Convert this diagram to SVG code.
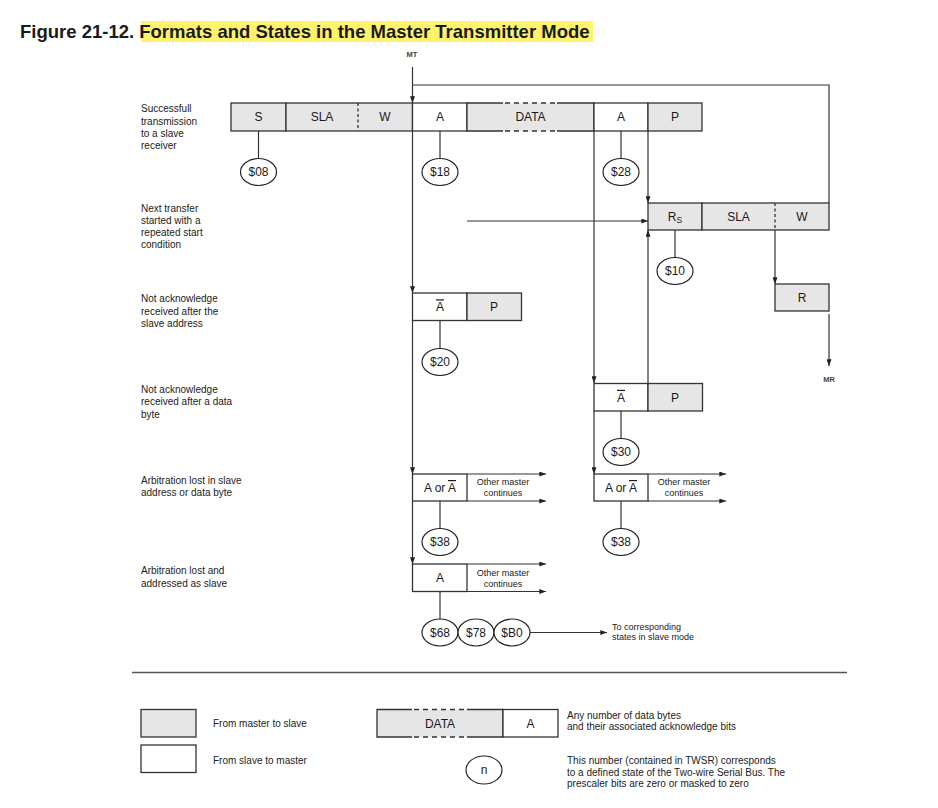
<svg xmlns="http://www.w3.org/2000/svg" width="938" height="808" viewBox="0 0 938 808">
<style>
text{font-family:"Liberation Sans",Arial,Helvetica,sans-serif;fill:#1a1a1a}
.g{fill:#e6e6e6;stroke:#333;stroke-width:1.3}
.w{fill:#fff;stroke:#333;stroke-width:1.3}
.f{fill:#e6e6e6;stroke:none}
.e{stroke:#333;stroke-width:1.3;fill:none}
.d{stroke:#333;stroke-width:1.3;stroke-dasharray:5,4;fill:none}
.dv{stroke:#333;stroke-width:1.3;stroke-dasharray:3,2.5;fill:none}
.t{font-size:12px;text-anchor:middle}
.s{font-size:12px;text-anchor:middle}
.l{font-size:10px;fill:#222}
.sm{font-size:9px;fill:#222}
.o{font-size:9px;text-anchor:middle;fill:#222}
.m{font-size:7.5px;font-weight:bold;text-anchor:middle;fill:#444}
.c{stroke:#333;stroke-width:1.2;fill:none}
.a{stroke:#333;stroke-width:1.2;fill:none;marker-end:url(#ah)}
.n{fill:#fff;stroke:#222;stroke-width:1.2}
.ov{text-decoration:overline}
</style>
<defs>
<marker id="ah" viewBox="0 0 8 6" refX="8" refY="3" markerWidth="7" markerHeight="5" markerUnits="userSpaceOnUse" orient="auto">
<path d="M0,0 L8,3 L0,6 z" fill="#222"/>
</marker>
</defs>
<rect width="938" height="808" fill="#fff"/>

<g id="title">
<rect x="141" y="21" width="452" height="21" fill="#fff36b"/>
<text x="20" y="37.5" font-size="18.5" font-weight="bold" fill="#111">Figure 21-12. Formats and States in the Master Transmitter Mode</text>
</g>

<g id="labels">
<text class="m" x="412" y="57">MT</text>
<text class="m" x="829" y="382">MR</text>
<text class="l" x="141" y="112">Successfull</text>
<text class="l" x="141" y="124.5">transmission</text>
<text class="l" x="141" y="136.8">to a slave</text>
<text class="l" x="141" y="149">receiver</text>
<text class="l" x="141" y="211.5">Next transfer</text>
<text class="l" x="141" y="223.8">started with a</text>
<text class="l" x="141" y="236">repeated start</text>
<text class="l" x="141" y="248.3">condition</text>
<text class="l" x="141" y="302">Not acknowledge</text>
<text class="l" x="141" y="314.5">received after the</text>
<text class="l" x="141" y="327">slave address</text>
<text class="l" x="141" y="393">Not acknowledge</text>
<text class="l" x="141" y="405.3">received after a data</text>
<text class="l" x="141" y="417.6">byte</text>
<text class="l" x="141" y="483.5">Arbitration lost in slave</text>
<text class="l" x="141" y="496">address or data byte</text>
<text class="l" x="141" y="574">Arbitration lost and</text>
<text class="l" x="141" y="586.5">addressed as slave</text>
<text class="sm" x="612" y="630">To corresponding</text>
<text class="sm" x="612" y="640">states in slave mode</text>
</g>

<g id="connectors">
<path class="a" d="M412.5,67 V103"/>
<path class="c" d="M412.5,85 H829 V203"/>
<path class="a" d="M412.5,131 V293"/>
<path class="a" d="M412.5,320 V474"/>
<path class="a" d="M412.5,501 V564"/>
<path class="a" d="M594,131 V383"/>
<path class="a" d="M594,411 V474"/>
<path class="a" d="M648,131 V203"/>
<path class="a" d="M648,383 V230"/>
<path class="a" d="M467,221 H648"/>
<path class="a" d="M775,230 V284"/>
<path class="a" d="M829,314 V366"/>
<path class="a" d="M467,474 H546"/>
<path class="a" d="M467,501 H546"/>
<path class="a" d="M648,474 H726"/>
<path class="a" d="M648,501 H726"/>
<path class="a" d="M467,564 H546"/>
<path class="a" d="M467,591.5 H546"/>
<path class="c" d="M258.5,131 V158"/>
<path class="c" d="M440,131 V158"/>
<path class="c" d="M621,131 V158"/>
<path class="c" d="M675,230 V257"/>
<path class="c" d="M440,320 V348"/>
<path class="c" d="M621,411 V438"/>
<path class="c" d="M440,501 V528"/>
<path class="c" d="M621,501 V528"/>
<path class="c" d="M440,591.5 V619"/>
<path class="a" d="M530,632.5 H607"/>
</g>

<g id="row1">
<rect class="g" x="231" y="103" width="55" height="28"/>
<text class="t" x="258.5" y="121.3">S</text>
<rect class="g" x="286" y="103" width="126.5" height="28"/>
<line class="dv" x1="358" y1="103" x2="358" y2="131"/>
<text class="t" x="322" y="121.3">SLA</text>
<text class="t" x="385" y="121.3">W</text>
<rect class="w" x="412.5" y="103" width="54.5" height="28"/>
<text class="t" x="440" y="121.3">A</text>
<rect class="f" x="467" y="103" width="127" height="28"/>
<path class="e" d="M503,103 H467 V131 H503 M557,103 H594 V131 H557"/>
<path class="d" d="M505,103 H557 M505,131 H557"/>
<text class="t" x="530.5" y="121.3">DATA</text>
<rect class="w" x="594" y="103" width="54" height="28"/>
<text class="t" x="621" y="121.3">A</text>
<rect class="g" x="648" y="103" width="54" height="28"/>
<text class="t" x="675" y="121.3">P</text>
</g>

<g id="row2">
<rect class="g" x="648" y="203" width="54" height="27"/>
<text class="t" x="675" y="221">R<tspan font-size="8.5" dy="2">S</tspan></text>
<rect class="g" x="702" y="203" width="127" height="27"/>
<line class="dv" x1="775" y1="203" x2="775" y2="230"/>
<text class="t" x="738.5" y="220.8">SLA</text>
<text class="t" x="802" y="220.8">W</text>
</g>

<g id="rowR">
<rect class="g" x="775" y="284" width="54" height="27"/>
<text class="t" x="802" y="301.8">R</text>
</g>

<g id="row3">
<rect class="w" x="412.5" y="293" width="54.5" height="27.5"/>
<text class="t" x="440" y="311.3"><tspan class="ov">A</tspan></text>
<rect class="g" x="467" y="293" width="54.5" height="27.5"/>
<text class="t" x="494" y="311.3">P</text>
</g>

<g id="row4">
<rect class="w" x="594" y="383.5" width="54" height="27.5"/>
<text class="t" x="621" y="401.8"><tspan class="ov">A</tspan></text>
<rect class="g" x="648" y="383.5" width="54.5" height="27.5"/>
<text class="t" x="675" y="401.8">P</text>
</g>

<g id="row5">
<rect class="w" x="412.5" y="474" width="54.5" height="27"/>
<text class="t" x="440" y="492">A or <tspan class="ov">A</tspan></text>
<text class="o" x="503" y="485">Other master</text>
<text class="o" x="503" y="496">continues</text>
<rect class="w" x="594" y="474" width="54" height="27"/>
<text class="t" x="621" y="492">A or <tspan class="ov">A</tspan></text>
<text class="o" x="684" y="485">Other master</text>
<text class="o" x="684" y="496">continues</text>
</g>

<g id="row6">
<rect class="w" x="412.5" y="564" width="54.5" height="27.5"/>
<text class="t" x="440" y="582">A</text>
<text class="o" x="503" y="575.5">Other master</text>
<text class="o" x="503" y="586.5">continues</text>
</g>

<g id="states">
<g id="s08"><ellipse class="n" cx="258.5" cy="172" rx="18" ry="13.5"/><text class="s" x="258.5" y="176.2">$08</text></g>
<g id="s18"><ellipse class="n" cx="440" cy="172" rx="18" ry="13.5"/><text class="s" x="440" y="176.2">$18</text></g>
<g id="s28"><ellipse class="n" cx="621" cy="172" rx="18" ry="13.5"/><text class="s" x="621" y="176.2">$28</text></g>
<g id="s10"><ellipse class="n" cx="675" cy="271" rx="18" ry="13.5"/><text class="s" x="675" y="275.2">$10</text></g>
<g id="s20"><ellipse class="n" cx="440" cy="362" rx="18" ry="13.5"/><text class="s" x="440" y="366.2">$20</text></g>
<g id="s30"><ellipse class="n" cx="621" cy="452" rx="18" ry="13.5"/><text class="s" x="621" y="456.2">$30</text></g>
<g id="s38a"><ellipse class="n" cx="440" cy="542" rx="18" ry="13.5"/><text class="s" x="440" y="546.2">$38</text></g>
<g id="s38b"><ellipse class="n" cx="621" cy="542" rx="18" ry="13.5"/><text class="s" x="621" y="546.2">$38</text></g>
<g id="s68"><ellipse class="n" cx="440" cy="632.5" rx="18" ry="13.5"/><text class="s" x="440" y="636.7">$68</text></g>
<g id="s78"><ellipse class="n" cx="476" cy="632.5" rx="18" ry="13.5"/><text class="s" x="476" y="636.7">$78</text></g>
<g id="sB0"><ellipse class="n" cx="512" cy="632.5" rx="18" ry="13.5"/><text class="s" x="512" y="636.7">$B0</text></g>
</g>

<g id="legend">
<line x1="132" y1="672.5" x2="847" y2="672.5" stroke="#555" stroke-width="1.5"/>
<rect class="g" x="141" y="709.5" width="55" height="27.5"/>
<text class="l" x="213" y="727">From master to slave</text>
<rect class="w" x="141" y="745" width="55" height="27.5"/>
<text class="l" x="213" y="764">From slave to master</text>
<rect class="f" x="377" y="709.5" width="126" height="27.5"/>
<path class="e" d="M412,709.5 H377 V737 H412 M467,709.5 H503 V737 H467"/>
<path class="d" d="M414,709.5 H467 M414,737 H467"/>
<text class="t" x="440" y="727.5">DATA</text>
<rect class="w" x="503" y="709.5" width="55" height="27.5"/>
<text class="t" x="530.5" y="727.5">A</text>
<text class="l" x="567" y="718.5">Any number of data bytes</text>
<text class="l" x="567" y="730">and their associated acknowledge bits</text>
<ellipse class="n" cx="484" cy="770" rx="18" ry="14"/>
<text class="s" x="484" y="774">n</text>
<text class="l" x="567" y="764">This number (contained in TWSR) corresponds</text>
<text class="l" x="567" y="775.5">to a defined state of the Two-wire Serial Bus. The</text>
<text class="l" x="567" y="787">prescaler bits are zero or masked to zero</text>
</g>
</svg>
